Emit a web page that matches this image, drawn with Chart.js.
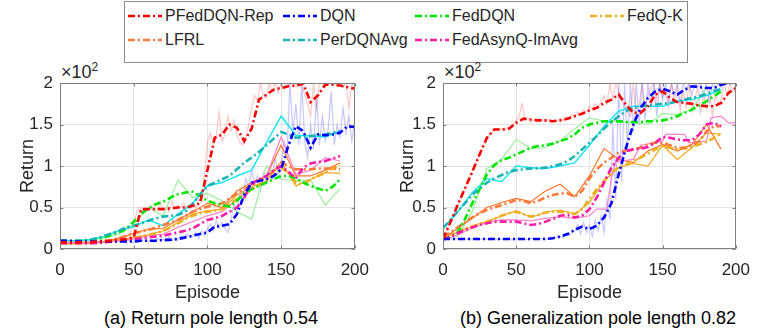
<!DOCTYPE html>
<html lang="en">
<head>
<meta charset="UTF-8">
<title>Return curves</title>
<script src="https://cdn.jsdelivr.net/npm/chart.js"></script>
<style>
  body { margin: 0; width: 761px; height: 330px; background: #fff; position: relative; overflow: hidden;
         font-family: "Liberation Sans", Arial, sans-serif; color: #262626; }
  #legend { position: absolute; left: 124px; top: 1px; width: 562px; height: 60px; border: 1px solid #8c8c8c; background: #fff; }
  .item { position: absolute; font-size: 16px; line-height: 20px; white-space: nowrap; display: flex; align-items: center; }
  .item svg { margin-right: 3px; }
  .mult { position: absolute; font-size: 18px; top: 60px; }
  .mult sup { font-size: 12px; }
  .cap { position: absolute; font-size: 18px; line-height: 22px; top: 307px; width: 380px; text-align: center; color: #000; }
  canvas { position: absolute; top: 62px; }
</style>
</head>
<body>
<div id="legend"></div>
<span class="mult" style="left:61px">&times;10<sup>2</sup></span>
<span class="mult" style="left:444px">&times;10<sup>2</sup></span>
<canvas id="left" width="380" height="243" style="left:0"></canvas>
<canvas id="right" width="381" height="243" style="left:380px"></canvas>
<div class="cap" style="left:21px">(a) Return pole length 0.54</div>
<div class="cap" style="left:408px">(b) Generalization pole length 0.82</div>

<script>
// episode grids
const ep5 = Array.from({length: 41}, (_, i) => i * 5);
const ep10 = Array.from({length: 20}, (_, i) => i * 10);
const ep2 = Array.from({length: 81}, (_, i) => 40 + i * 2);

const names = ['PFedDQN-Rep', 'DQN', 'FedDQN', 'FedQ-K', 'LFRL', 'PerDQNAvg', 'FedAsynQ-ImAvg'];
const keys = ['rep', 'dqn', 'fed', 'fqk', 'lfrl', 'per', 'asyn'];

// ---- (a) return, pole length 0.54 : smoothed curves on ep5 ----
const repA  = [8,8,8,8,8,9,9,10,11,12,14,48,48,48,48,49,50,50,52,55,95,134,138,150,146,130,145,180,186,192,194,196,197,199,177,185,198,198,197,195,193];
const dqnA  = [10,10,9,9,9,9,9,9,9,9,9,10,10,10,11,11,12,14,16,18,20,27,28,30,42,65,80,82,84,88,96,125,148,142,122,138,137,138,140,148,147];
const fedA  = [10,10,10,10,11,12,14,17,20,24,33,42,49,54,57,62,66,68,69,64,58,55,53,51,58,67,72,76,80,84,88,88,85,80,76,73,70,75,84];
const perA  = [10,10,10,10,11,13,16,19,22,26,28,31,34,37,39,40,41,45,54,66,76,80,84,88,96,104,110,117,125,133,141,138,134,135,136,137,138,140,142];
const lfrlA = [8,8,8,8,8,9,10,11,13,16,19,21,23,26,29,32,35,40,45,48,51,53,55,61,67,72,77,82,87,94,104,100,96,96,96,97,97,97,96];
const fqkA  = [7,7,7,7,7,8,8,9,11,12,14,15,17,19,22,26,31,36,40,43,45,46,48,54,60,66,72,77,82,89,98,92,80,78,84,88,92,97,101];
const asynA = [7,7,7,7,7,7,8,9,10,11,12,13,14,15,16,18,20,22,25,30,35,37,40,45,50,62,78,84,88,95,100,93,85,98,103,105,106,109,112];
// raw curves (a)
const repRawA  = [12,13,14,16,20,30,45,50,46,49,47,52,46,48,55,47,50,45,58,48,52,50,55,48,53,56,50,60,58,90,
                  128,140,126,135,165,130,138,160,142,155,138,128,125,135,150,170,185,178,200,185,
                  182,200,190,200,188,200,192,200,198,200,195,200,200,185,175,160,200,170,200,200,
                  196,200,200,198,200,200,195,200,170,200,190];
const dqnRawA  = [9,10,8,11,9,8,12,9,10,14,9,11,8,13,10,12,9,15,10,13,11,16,12,18,14,15,20,13,22,16,
                  24,30,22,34,25,32,24,20,35,55,45,70,62,85,75,95,78,88,70,92,
                  80,95,85,110,90,100,130,115,200,140,175,125,200,130,110,150,120,185,125,160,
                  130,145,190,125,150,135,170,140,160,130,155];
const fedRawA  = [10,10,11,13,18,30,50,40,83,62,67,58,45,36,100,84,82,83,53,73];
const perRawA  = [10,10,11,15,22,27,35,28,42,55,76,80,88,95,128,160,137,136,135,142];
const lfrlRawA = [7,7,7,9,13,19,24,25,35,45,55,50,70,80,88,125,88,88,95,104];
const fqkRawA  = [6,6,7,8,11,14,17,22,32,42,46,48,65,75,82,105,76,84,92,91];
const asynRawA = [7,7,7,8,10,12,16,18,26,33,40,45,60,78,88,135,90,95,110,106];

// ---- (b) generalization, pole length 0.82 ----
const repB  = [12,32,53,73,93,114,134,144,144,145,152,157,156,155,155,154,155,157,160,163,167,170,176,180,186,174,164,164,172,186,190,182,177,176,175,173,172,172,176,188,194];
const dqnB  = [12,12,12,12,12,12,12,12,12,12,12,12,12,12,12,13,15,18,23,27,24,28,38,55,90,122,150,170,182,190,193,190,186,192,196,195,194,194,198,200,200];
const fedB  = [12,14,20,36,55,72,90,101,107,110,114,118,122,124,125,127,130,133,138,146,150,152,154,154,154,153,153,153,154,154,155,157,160,164,168,173,178,184,190];
const perB  = [25,35,45,55,65,73,80,85,89,93,95,96,97,97,98,100,102,106,112,120,128,136,145,153,160,166,170,172,173,174,175,176,178,180,182,184,187,190,193];
const lfrlB = [15,20,26,32,38,43,47,50,53,56,59,58,55,58,62,65,67,67,63,70,85,96,104,110,116,119,120,122,126,128,128,125,122,122,125,130,142,148,148];
const fqkB  = [14,17,21,24,27,30,33,36,40,43,45,42,39,41,44,45,45,44,42,48,60,72,82,92,98,102,106,110,115,120,124,122,120,121,123,126,129,134,139];
const asynB = [11,15,19,23,26,29,31,33,33,33,33,31,29,30,33,36,40,41,38,40,48,62,80,98,110,118,120,121,123,128,135,134,132,131,131,138,150,152,148];
// raw curves (b)
const repRawB  = [145,143,146,145,150,155,160,175,155,158,152,156,153,157,155,153,156,152,155,154,
                  157,155,160,157,162,160,165,162,168,165,172,168,175,170,178,185,175,200,180,200,
                  190,180,170,165,160,200,165,175,200,170,185,195,200,180,200,185,190,170,200,175,
                  195,165,190,170,200,165,180,195,165,185,170,190,160,185,175,180,200,185,200,190,195];
const dqnRawB  = [12,11,13,12,11,12,13,12,11,12,13,12,11,12,13,12,12,13,14,13,15,14,17,16,20,
                  22,30,18,32,20,28,15,35,22,40,20,60,35,150,60,200,80,200,120,200,140,200,150,200,155,
                  200,170,200,160,200,180,200,175,200,185,200,175,200,190,200,185,200,195,200,185,
                  200,175,200,190,200,195,200,198,200,200,200];
const fedRawB  = [12,15,45,97,108,132,121,122,130,145,158,154,153,152,150,163,162,168,195,188];
const perRawB  = [25,45,68,85,81,100,98,97,100,104,125,148,166,172,172,172,178,180,185,192];
const lfrlRawB = [12,25,37,50,56,61,57,70,78,63,88,121,108,104,118,126,118,126,150,120];
const fqkRawB  = [14,20,28,33,40,46,38,44,47,42,56,82,98,103,100,125,108,122,140,138];
const asynRawEpB = [0,10,20,30,40,50,60,70,80,90,100,105,112,115,118,130,135,150,152,165,168,180,183,190,195,200];
const asynRawB   = [11,17,25,32,35,35,34,37,39,37,40,48,48,85,105,108,125,130,138,138,128,130,158,160,152,152];

const col = {rep: '#ff0000', dqn: '#0000ff', fed: '#00e600', fqk: '#edb120', lfrl: '#ff7a3a', per: '#1bb3b3', asyn: '#ff1aa8'};
const raw = {rep: 'rgba(255,0,0,0.22)', dqn: 'rgba(0,0,255,0.22)', fed: '#9cee9c', fqk: '#f3a81c', lfrl: '#ff7428', per: '#19e6f0', asyn: '#ff86c8'};
const DASH = [7, 3, 2, 3];

function pts(xs, ys) { return ys.map((y, i) => ({x: xs[i], y: y})); }
function head(xs, ys, upTo) { return pts(xs, ys).filter(p => p.x < upTo); }

function smooth(data, c) { return {data: data, borderColor: c, borderWidth: 2.6, borderDash: DASH}; }
function thin(data, c, w) { return {data: data, borderColor: c, borderWidth: w || 1.2}; }

// legend, 4 columns x 2 rows
const legendPos = [[0, 0], [1, 0], [2, 0], [3, 0], [0, 1], [1, 1], [2, 1]];
const colX = [3, 158, 290, 465];
const rowY = [4, 28];
const lg = document.getElementById('legend');
keys.forEach(function (key, i) {
  const d = document.createElement('div');
  d.className = 'item';
  d.style.left = colX[legendPos[i][0]] + 'px';
  d.style.top = rowY[legendPos[i][1]] + 'px';
  d.innerHTML = '<svg width="34" height="6"><line x1="0" y1="3" x2="34" y2="3" stroke="' + col[key] +
    '" stroke-width="2.6" stroke-dasharray="7 3 2 3"/></svg><span>' + names[i] + '</span>';
  lg.appendChild(d);
});

const frame = {
  id: 'frame',
  afterDatasetsDraw(chart) {
    const {ctx, chartArea: a, scales} = chart;
    ctx.save();
    ctx.strokeStyle = '#808080';
    ctx.lineWidth = 1;
    const l = Math.round(a.left) + 0.5, t = Math.round(a.top) + 0.5;
    const r = Math.round(a.right) - 0.5, b = Math.round(a.bottom) - 0.5;
    ctx.strokeRect(l, t, r - l, b - t);
    ctx.beginPath();
    scales.x.ticks.forEach(tk => {
      const px = Math.round(scales.x.getPixelForValue(tk.value)) + 0.5;
      ctx.moveTo(px, b); ctx.lineTo(px, b - 3);
      ctx.moveTo(px, t); ctx.lineTo(px, t + 3);
    });
    scales.y.ticks.forEach(tk => {
      const py = Math.round(scales.y.getPixelForValue(tk.value)) + 0.5;
      ctx.moveTo(l, py); ctx.lineTo(l + 3, py);
      ctx.moveTo(r, py); ctx.lineTo(r - 3, py);
    });
    ctx.stroke();
    ctx.restore();
  }
};

function makeChart(id, datasets, yWidth, rightPad) {
  const tickFont = {family: 'Liberation Sans', size: 17};
  const titleFont = {family: 'Liberation Sans', size: 18};
  return new Chart(document.getElementById(id), {
    type: 'line',
    data: {datasets: datasets},
    plugins: [frame],
    options: {
      animation: false,
      responsive: false,
      events: [],
      layout: {padding: {top: 21, right: rightPad, left: 0, bottom: 0}},
      plugins: {legend: {display: false}, tooltip: {enabled: false}},
      elements: {point: {radius: 0}, line: {tension: 0, borderCapStyle: 'butt'}},
      scales: {
        x: {
          type: 'linear', min: 0, max: 200,
          afterFit: s => { s.height = 56; },
          ticks: {stepSize: 50, font: tickFont, color: '#262626', padding: 11, maxRotation: 0},
          grid: {color: '#e3e3e3', drawTicks: false},
          border: {display: false},
          title: {display: true, text: 'Episode', font: titleFont, color: '#262626', padding: {top: 0, bottom: 1}}
        },
        y: {
          min: 0, max: 200,
          afterFit: s => { s.width = yWidth; },
          ticks: {stepSize: 50, font: tickFont, color: '#262626', padding: 7, callback: v => String(v / 100)},
          grid: {color: '#e3e3e3', drawTicks: false},
          border: {display: false},
          title: {display: true, text: 'Return', font: titleFont, color: '#262626', padding: {top: 17, bottom: 0}}
        }
      }
    }
  });
}

makeChart('left', [
  smooth(pts(ep5, repA), col.rep),
  smooth(pts(ep5, dqnA), col.dqn),
  smooth(pts(ep5, asynA), col.asyn),
  smooth(pts(ep5, perA), col.per),
  smooth(pts(ep5, fedA), col.fed),
  smooth(pts(ep5, lfrlA), col.lfrl),
  smooth(pts(ep5, fqkA), col.fqk),
  thin(pts(ep10, perRawA), raw.per, 1.5),
  thin(pts(ep10, asynRawA), raw.asyn),
  thin(pts(ep10, lfrlRawA), raw.lfrl),
  thin(pts(ep10, fqkRawA), raw.fqk),
  thin(pts(ep10, fedRawA), raw.fed),
  thin(head(ep5, dqnA, 40).concat(pts(ep2, dqnRawA)), raw.dqn),
  thin(head(ep5, repA, 40).concat(pts(ep2, repRawA)), raw.rep)
], 60, 17);

makeChart('right', [
  smooth(pts(ep5, repB), col.rep),
  smooth(pts(ep5, dqnB), col.dqn),
  smooth(pts(ep5, asynB), col.asyn),
  smooth(pts(ep5, perB), col.per),
  smooth(pts(ep5, fedB), col.fed),
  smooth(pts(ep5, lfrlB), col.lfrl),
  smooth(pts(ep5, fqkB), col.fqk),
  thin(pts(ep10, perRawB), raw.per, 1.5),
  thin(pts(asynRawEpB, asynRawB), raw.asyn),
  thin(pts(ep10, lfrlRawB), raw.lfrl),
  thin(pts(ep10, fqkRawB), raw.fqk),
  thin(pts(ep10, fedRawB), raw.fed),
  thin(head(ep5, dqnB, 40).concat(pts(ep2, dqnRawB)), raw.dqn),
  thin(head(ep5, repB, 40).concat(pts(ep2, repRawB)), raw.rep)
], 63, 16);
</script>
</body>
</html>
